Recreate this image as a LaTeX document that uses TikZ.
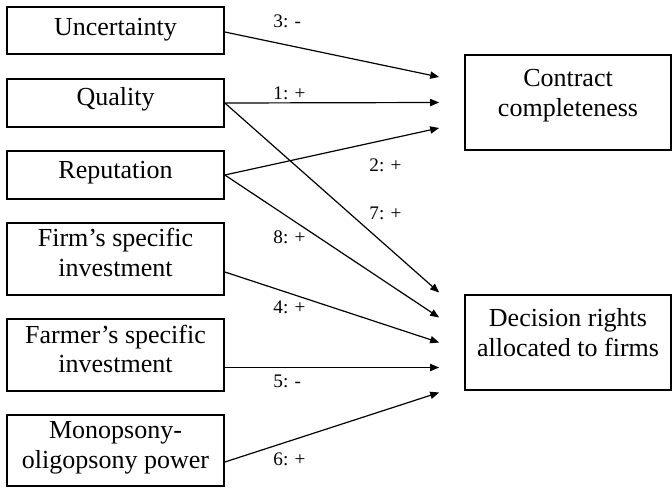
\documentclass[tikz,border=0pt]{standalone}
\usepackage{fontspec}
\setmainfont{Liberation Serif}
\usetikzlibrary{arrows.meta, calc}
% box text sits a little above the middle
\newcommand{\lifted}[2]{\raisebox{#1}[\height][\depth]{\begin{tabular}{@{}c@{}}#2\end{tabular}}}

\begin{document}
\begin{tikzpicture}[x=0.5pt, y=-0.5pt,
    factor/.style={draw, line width=0.85pt, inner sep=0pt,
        minimum width=108.5pt, font=\fontsize{13}{14.7}\selectfont},
    outcome/.style={factor, minimum width=103pt, minimum height=47.5pt},
    effect/.style={-{Triangle[length=4.5pt, width=3.6pt]}, line width=0.6pt},
    sign/.style={anchor=west, inner sep=0pt, font=\fontsize{9.6}{11}\selectfont}]
    \useasboundingbox (0,0) rectangle (672,487);

    % Determinants on the left
    \node[factor, minimum height=23.5pt] (unc) at (115.5, 30.5) {\lifted{0.5pt}{Uncertainty}};
    \node[factor, minimum height=24pt] (qual) at (115.5, 103) {\lifted{1.5pt}{Quality}};
    \node[factor, minimum height=24pt] (rep) at (115.5, 175) {\lifted{1pt}{Reputation}};
    \node[factor, minimum height=36pt] (firm) at (115.5, 259) {\lifted{1.7pt}{Firm’s specific\\investment}};
    \node[factor, minimum height=36pt] (farm) at (115.5, 355) {\lifted{1.3pt}{Farmer’s specific\\investment}};
    \node[factor, minimum height=35.5pt] (mono) at (115.5, 450.5) {\lifted{1.5pt}{Monopsony-\\oligopsony power}};

    % Contract outcomes on the right
    \node[outcome] (cc) at (568, 102.5) {\lifted{3.5pt}{Contract\\completeness}};
    \node[outcome] (dr) at (568, 342.5) {\lifted{3.5pt}{Decision rights\\allocated to firms}};

    % Arrow tips in front of the outcome boxes
    \foreach \i/\dy in {1/-25.5, 2/0, 3/25.5}
        \coordinate (cc\i) at ($(cc.west)+(-25,\dy)$);
    \foreach \i/\dy in {1/-50, 2/-25, 3/0, 4/25, 5/50}
        \coordinate (dr\i) at ($(dr.west)+(-25,\dy)$);

    % Hypothesised effects
    \draw[effect] ($(unc.east)+(0,1.5)$) -- (cc1);
    \draw[effect] (qual.east) -- (cc2);
    \draw[effect] (rep.east) -- (cc3);
    \draw[effect] (qual.east) -- (dr1);
    \draw[effect] (rep.east) -- (dr2);
    \draw[effect] ($(firm.east)+(0,13)$) -- (dr3);
    \draw[effect] ($(farm.east)+(0,12.5)$) -- (dr4);
    \draw[effect] ($(mono.east)+(0,11.5)$) -- (dr5);

    % Signs
    \node[sign] (s3) at (273, 21) {3: -};
    \node[sign] (s1) at (273, 93) {1: +};
    \node[sign] (s2) at (369, 165) {2: +};
    \node[sign] (s7) at (369, 213) {7: +};
    \node[sign] (s8) at (273, 237) {8: +};
    \node[sign] (s4) at (273, 307) {4: +};
    \node[sign] (s5) at (273, 381) {5: -};
    \node[sign] (s6) at (273, 459) {6: +};
\end{tikzpicture}
\end{document}
